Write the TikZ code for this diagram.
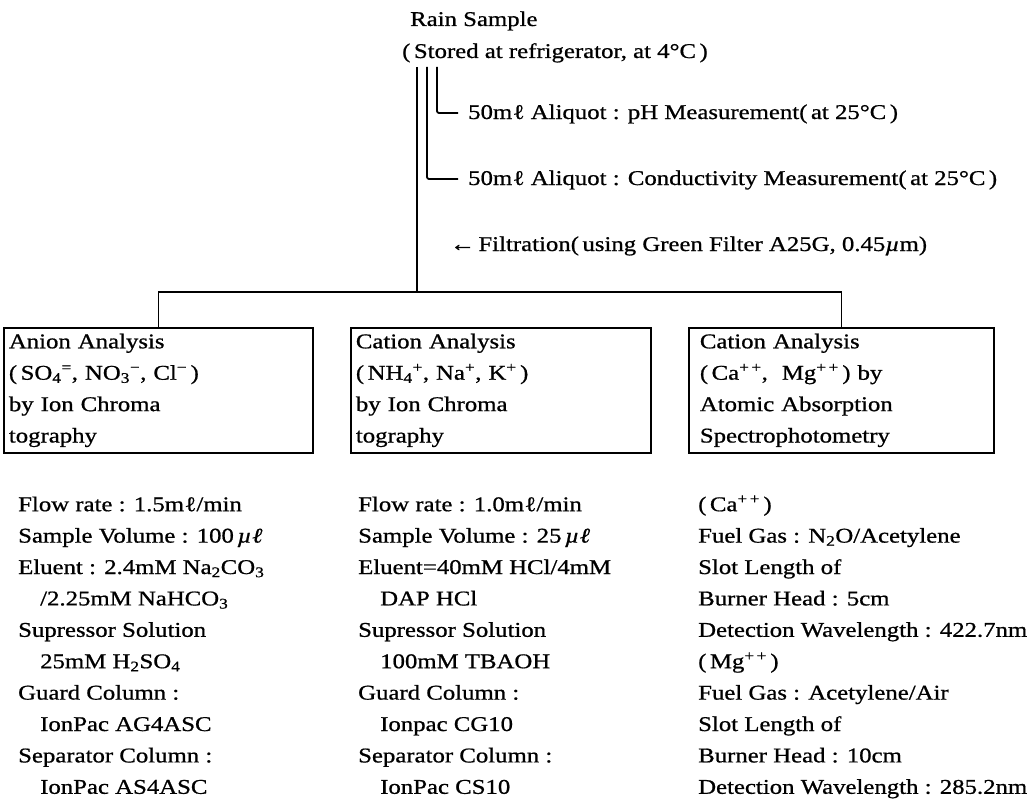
\documentclass[tikz,border=0pt]{standalone}
\usepackage{fontspec}
\setmainfont{Liberation Serif}[FakeStretch=1.18,FakeBold=0.8]
\newcommand{\mymL}{m\kern0.5ptℓ}
\newcommand{\myuL}{\textit{µ\kern0.5ptℓ}}
\newcommand{\sub}[1]{\textsubscript{#1}}
\newcommand{\sups}[1]{\textsuperscript{#1}}
\newcommand{\ind}{\hspace*{22pt}}
\newcommand{\fst}{\rule{0pt}{16pt}}
\begin{document}
\begin{tikzpicture}[x=1pt,y=-1pt,
  every node/.style={font=\fontsize{21}{31.4}\selectfont, inner sep=0pt},
  conn/.style={line width=1.8pt},
  elbow/.style={line width=1.8pt, rounded corners=2pt},
  boxnode/.style={draw, line width=1.8pt, anchor=north west, align=left, inner ysep=0pt, minimum height=125pt},
  txt/.style={anchor=base west},
  col/.style={anchor=north west, align=left}
]
\useasboundingbox (0,0) rectangle (1036,808);

% top texts
\node[txt] (rain) at (410,26) {Rain Sample};
\node[txt] (stored) at (402,58) {(\,Stored at refrigerator, at 4°C\,)};
\node[txt] (ph) at (468,119) {50\mymL{} Aliquot : pH Measurement(\,at 25°C\,)};
\node[txt] (cond) at (468,185) {50\mymL{} Aliquot : Conductivity Measurement(\,at 25°C\,)};
\node[txt] (filt) at (450,251) {←\,Filtration(\,using Green Filter A25G, 0.45\textit{µ}m)};

% boxes
\node[boxnode, inner xsep=5pt, text width=299pt] (box1) at (3,327)
  {Anion Analysis\\(\,SO\sub{4}\sups{=}, NO\sub{3}\sups{−}, Cl\sups{−}\,)\\by Ion Chroma\\tography};
\node[boxnode, inner xsep=5pt, text width=290pt] (box2) at (350,327)
  {Cation Analysis\\(\,NH\sub{4}\sups{+}, Na\sups{+}, K\sups{+}\,)\\by Ion Chroma\\tography};
\node[boxnode, inner xsep=11pt, text width=283pt] (box3) at (688,327)
  {Cation Analysis\\(\,Ca\sups{+\,+}, \ Mg\sups{+\,+}\,) by\\Atomic Absorption\\Spectrophotometry};

% lower columns
\node[col] (col1) at (18,495) {\fst Flow rate : 1.5\mymL/min\\
Sample Volume : 100\,\myuL\\
Eluent : 2.4mM Na\sub{2}CO\sub{3}\\
\ind /2.25mM NaHCO\sub{3}\\
Supressor Solution\\
\ind 25mM H\sub{2}SO\sub{4}\\
Guard Column :\\
\ind IonPac AG4ASC\\
Separator Column :\\
\ind IonPac AS4ASC};

\node[col] (col2) at (358,495) {\fst Flow rate : 1.0\mymL/min\\
Sample Volume : 25\,\myuL\\
Eluent=40mM HCl/4mM\\
\ind DAP HCl\\
Supressor Solution\\
\ind 100mM TBAOH\\
Guard Column :\\
\ind Ionpac CG10\\
Separator Column :\\
\ind IonPac CS10};

\node[col] (col3) at (698,495) {\fst (\,Ca\sups{+\,+}\,)\\
Fuel Gas : N\sub{2}O/Acetylene\\
Slot Length of\\
Burner Head : 5cm\\
Detection Wavelength : 422.7nm\\
(\,Mg\sups{+\,+}\,)\\
Fuel Gas : Acetylene/Air\\
Slot Length of\\
Burner Head : 10cm\\
Detection Wavelength : 285.2nm};

% connectors
\coordinate (t1) at (417,67);
\coordinate (t2) at (427,67);
\coordinate (t3) at (437,67);
\coordinate (j) at (417,292);
\coordinate (phend) at (458,113);
\coordinate (condend) at (458,179);
\draw[conn] (t1) -- (j);
\draw[elbow] (t2) |- (condend);
\draw[elbow] (t3) |- (phend);
\draw[conn] (box1.north) |- (j) -| (box3.north);
\end{tikzpicture}
\end{document}
